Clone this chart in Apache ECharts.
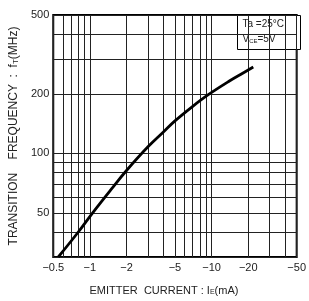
<!DOCTYPE html>
<html>
<head>
<meta charset="UTF-8">
<title></title>
<script src="https://cdn.jsdelivr.net/npm/echarts@6/dist/echarts.min.js"></script>
<style>
*{margin:0;padding:0;}
#main{width:309px;height:301px;}
</style>
</head>
<body>
<div id="main"></div>
<script>
// data (emitter current magnitude in mA, fT in MHz)
var currentIE = [0.55, 0.8, 1.05, 1.5, 2, 3, 4, 5, 7, 9.4, 14, 18, 22];
var freqFT = [30, 40, 50, 66, 82, 108, 128, 146, 173, 198, 232, 254, 273];
var xGridTicks = [0.5, 0.6, 0.7, 0.8, 0.9, 1, 2, 3, 4, 5, 6, 7, 8, 9, 10, 20, 30, 40, 50];
var xTickLabels = [0.5, 1, 2, 5, 10, 20, 50];
var yGridTicks = [30, 40, 50, 60, 70, 80, 90, 100, 200, 300, 400, 500];
var yTickLabels = [50, 100, 200, 500];

var myChart = echarts.init(document.getElementById('main'));
var font = 'Arial, "Liberation Sans", sans-serif';
var nameRich = {
  n: {fontFamily: font, fontSize: 11, color: '#222'},
  s: {fontFamily: font, fontSize: 7, color: '#222', verticalAlign: 'bottom', padding: [4, 0, 0, 0]}
};
var option = {
  animation: false,
  backgroundColor: '#fff',
  grid: {left: 53, right: 9, top: 15, bottom: 41, show: true, borderColor: '#000', borderWidth: 2, backgroundColor: 'transparent'},
  xAxis: {
    type: 'log', min: 0.5, max: 50,
    axisLine: {show: false},
    axisTick: {show: false, customValues: xGridTicks},
    splitLine: {show: true, lineStyle: {color: '#222', width: 1}},
    axisLabel: {customValues: xTickLabels, color: '#222', fontFamily: font, fontSize: 11, margin: 5,
      formatter: function (v) { return '\u2212' + v; }},
    name: '{n|EMITTER  CURRENT : I}{s|E}{n|(mA)}',
    nameLocation: 'middle', nameGap: 28,
    nameTextStyle: {padding: [0, 22, 0, 0], rich: nameRich}
  },
  yAxis: {
    type: 'log', min: 30, max: 500,
    axisLine: {show: false},
    axisTick: {show: false, customValues: yGridTicks},
    splitLine: {show: true, lineStyle: {color: '#222', width: 1}},
    axisLabel: {customValues: yTickLabels, color: '#222', fontFamily: font, fontSize: 11, margin: 4},
    name: '{n|TRANSITION    FREQUENCY  :  f}{s|T}{n|(MHz)}',
    nameLocation: 'middle', nameGap: 33, nameRotate: 90,
    nameTextStyle: {rich: {
      n: {fontFamily: font, fontSize: 12, color: '#222'},
      s: {fontFamily: font, fontSize: 8, color: '#222', verticalAlign: 'bottom', padding: [4, 0, 0, 0]}
    }}
  },
  graphic: [{
    type: 'group', left: 237, top: 15,
    children: [
      {type: 'rect', shape: {x: 0, y: 0, width: 63, height: 34}, style: {fill: '#fff', stroke: '#000', lineWidth: 1}},
      {type: 'text', x: 5, y: 4, style: {text: 'Ta =25\u00b0C', font: '10px ' + font, fill: '#222'}},
      {type: 'text', x: 5, y: 19, style: {text: '{a|V}{s|CE}{a|=5V}', fill: '#222',
        rich: {a: {fontFamily: font, fontSize: 10, color: '#222'}, s: {fontFamily: font, fontSize: 6, color: '#222', padding: [4, 0, 0, 0]}}}}
    ]
  }],
  series: [{
    type: 'line', smooth: 0.4, symbol: 'none',
    data: currentIE.map(function (x, i) { return [x, freqFT[i]]; }),
    lineStyle: {color: '#000', width: 2.8}
  }]
};
myChart.setOption(option);
</script>
</body>
</html>
